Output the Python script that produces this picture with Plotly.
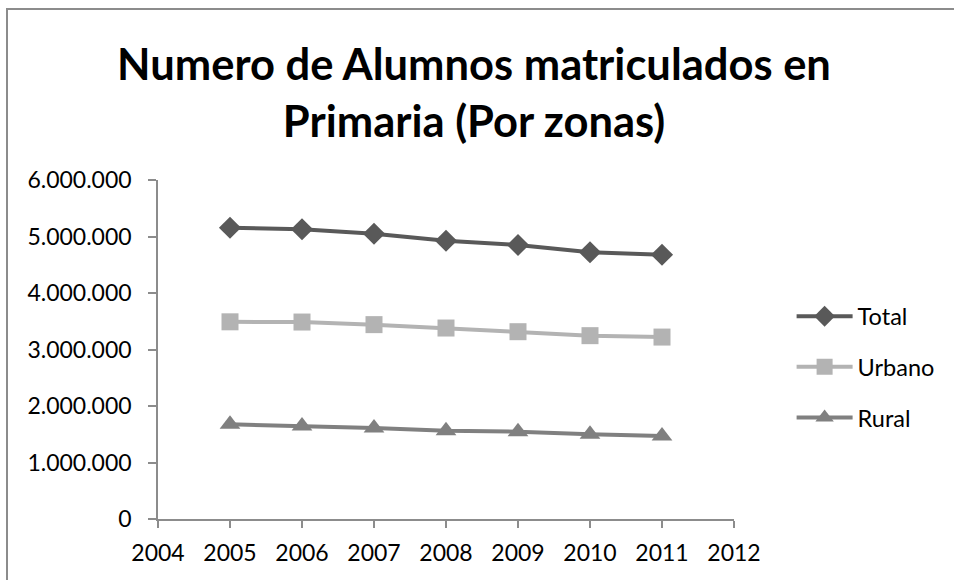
import plotly.graph_objects as go

years = [2005, 2006, 2007, 2008, 2009, 2010, 2011]
total = [5156000, 5127000, 5050000, 4926000, 4850000, 4720000, 4678000]
urbano = [3490000, 3486000, 3440000, 3380000, 3315000, 3245000, 3220000]
rural = [1676000, 1646000, 1610000, 1563000, 1545000, 1499000, 1469000]
y_ticks = [0, 1000000, 2000000, 3000000, 4000000, 5000000, 6000000]
x_ticks = [2004, 2005, 2006, 2007, 2008, 2009, 2010, 2011, 2012]

FONT = "Lato"
TICK = 23

fig = go.Figure()
fig.add_trace(go.Scatter(x=years, y=total, name="Total", mode="lines+markers",
                         legendgroup="t",
                         line=dict(color="#595959", width=4),
                         marker=dict(symbol="diamond", size=17, color="#595959")))
fig.add_trace(go.Scatter(x=years, y=urbano, name="Urbano", mode="lines+markers",
                         legendgroup="u",
                         line=dict(color="#b3b3b3", width=4),
                         marker=dict(symbol="square", size=17, color="#b3b3b3")))
fig.add_trace(go.Scatter(x=years, y=rural, name="Rural", mode="lines+markers",
                         legendgroup="r",
                         line=dict(color="#808080", width=4),
                         marker=dict(symbol="triangle-up", size=18, color="#808080")))

fig.update_layout(
    width=954, height=580,
    margin=dict(l=158, r=220, t=180, b=61),
    paper_bgcolor="white", plot_bgcolor="white",
    separators=",.",
    font=dict(family=FONT, size=TICK, color="black"),
    title=dict(text="<b>Numero de Alumnos matriculados en<br>Primaria (Por zonas)</b>",
               x=474 / 954, xref="container", y=1 - 80 / 580, yref="container",
               xanchor="center", yanchor="middle",
               font=dict(family=FONT, size=43.5, color="black")),
    showlegend=True,
    legend=dict(x=1.1, y=(519 - 367) / 339, xanchor="left", yanchor="middle",
                font=dict(family=FONT, size=23.5), tracegroupgap=17,
                traceorder="grouped", itemwidth=56, bgcolor="rgba(0,0,0,0)"),
    shapes=[dict(type="rect", xref="paper", yref="paper",
                 x0=(7 - 158) / 576, x1=2.0, y0=-1.0, y1=(519 - 9) / 339,
                 line=dict(color="#8c8c8c", width=2), layer="below")],
)

fig.update_xaxes(range=[2004, 2012], tickvals=x_ticks, ticktext=[str(v) for v in x_ticks],
                 showgrid=False, zeroline=False, showline=True, linecolor="#8c8c8c",
                 linewidth=1.5, ticks="outside", ticklen=7, tickcolor="#8c8c8c",
                 tickwidth=1.5, ticklabelstandoff=6, tickfont=dict(family=FONT, size=TICK))
fig.update_yaxes(range=[0, 6000000], tickvals=y_ticks, tickformat=",d",
                 showgrid=False, zeroline=False, showline=True, linecolor="#8c8c8c",
                 linewidth=1.5, ticks="outside", ticklen=8, tickcolor="#8c8c8c",
                 tickwidth=1.5, ticklabelstandoff=12, tickfont=dict(family=FONT, size=TICK))

fig.write_html("out.html", config={"displayModeBar": False},
               post_script="document.body.style.margin='0';")
